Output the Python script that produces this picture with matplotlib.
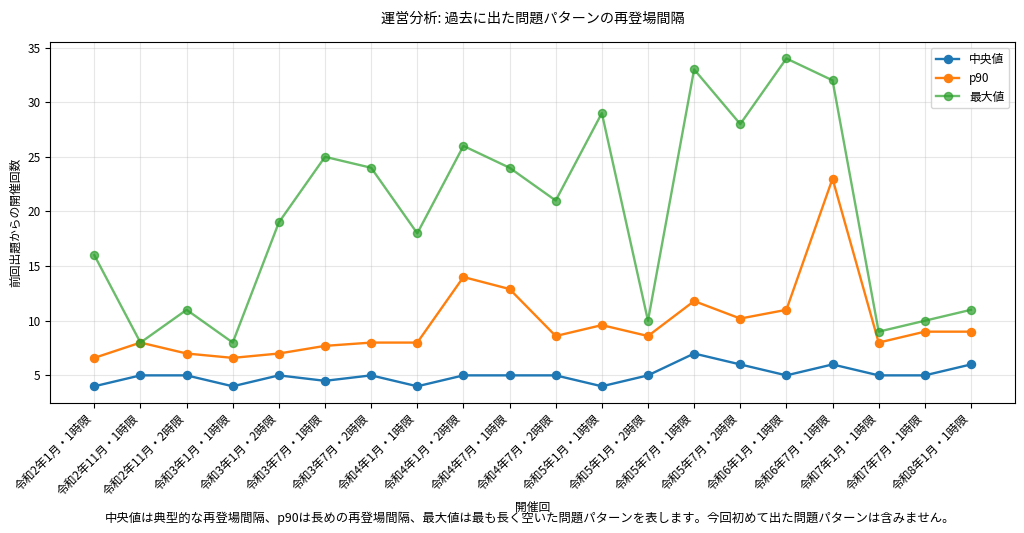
import matplotlib
matplotlib.use("Agg")
import matplotlib.pyplot as plt

plt.rcParams['font.family'] = ['Noto Sans CJK JP', 'DejaVu Sans']
plt.rcParams['font.size'] = 8.5
plt.rcParams['lines.linewidth'] = 1.7
plt.rcParams['lines.markersize'] = 5.8

# 開催回
sessions = [
    "令和2年1月・1時限", "令和2年11月・1時限", "令和2年11月・2時限", "令和3年1月・1時限",
    "令和3年1月・2時限", "令和3年7月・1時限", "令和3年7月・2時限", "令和4年1月・1時限",
    "令和4年1月・2時限", "令和4年7月・1時限", "令和4年7月・2時限", "令和5年1月・1時限",
    "令和5年1月・2時限", "令和5年7月・1時限", "令和5年7月・2時限", "令和6年1月・1時限",
    "令和6年7月・1時限", "令和7年1月・1時限", "令和7年7月・1時限", "令和8年1月・1時限",
]
median = [4, 5, 5, 4, 5, 4.5, 5, 4, 5, 5, 5, 4, 5, 7, 6, 5, 6, 5, 5, 6]
p90 = [6.6, 8, 7, 6.6, 7, 7.7, 8, 8, 14, 12.9, 8.6, 9.6, 8.6, 11.8, 10.2, 11, 23, 8, 9, 9]
max_gap = [16, 8, 11, 8, 19, 25, 24, 18, 26, 24, 21, 29, 10, 33, 28, 34, 32, 9, 10, 11]

fig, ax = plt.subplots(figsize=(10.24, 5.33), dpi=100)
x = range(len(sessions))
ax.plot(x, median, marker='o', label='中央値')
ax.plot(x, p90, marker='o', label='p90')
ax.plot(x, max_gap, marker='o', alpha=0.7, label='最大値')

ax.set_xticks(list(x))
ax.set_xticklabels(sessions, rotation=45, ha='right')
ax.set_xlabel('開催回', labelpad=2)
ax.set_ylabel('前回出題からの開催回数')
ax.set_title('運営分析: 過去に出た問題パターンの再登場間隔', fontsize=10.2, pad=14)
ax.grid(True, alpha=0.3)
ax.legend(loc='upper right')

fig.subplots_adjust(left=0.0493, right=0.991, top=0.921, bottom=0.2445)
fig.text(0.518, 0.02, '中央値は典型的な再登場間隔、p90は長めの再登場間隔、最大値は最も長く空いた問題パターンを表します。今回初めて出た問題パターンは含みません。',
         ha='center', fontsize=8.9)

fig.savefig('out.png', dpi=100)
